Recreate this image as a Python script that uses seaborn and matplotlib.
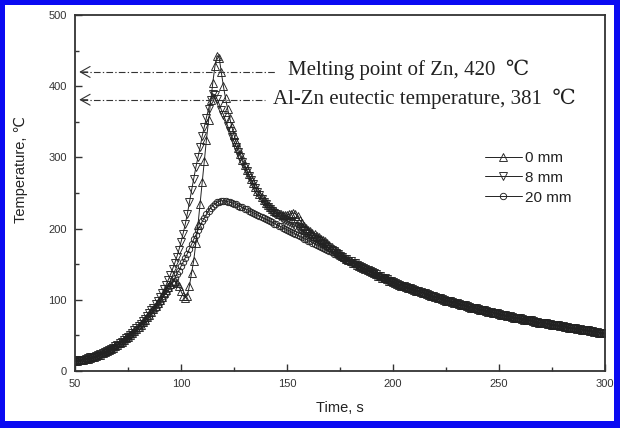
import matplotlib
matplotlib.use("Agg")
import matplotlib.pyplot as plt
import seaborn as sns
from matplotlib.patches import Rectangle

# ---------------- data (1 s sampling) ----------------
time_s = list(range(50, 301))

# t = 50 ... 199 s
head_0mm = [
    14, 14, 15, 15, 16, 17, 17, 18, 19, 20,
    21, 22, 23, 25, 26, 28, 29, 31, 33, 35,
    37, 39, 41, 43, 46, 48, 51, 53, 56, 59,
    62, 65, 69, 72, 76, 79, 83, 87, 91, 95,
    100, 104, 109, 114, 118, 122, 125, 126, 124, 119,
    112, 106, 103, 106, 120, 138, 155, 180, 205, 235,
    265, 295, 325, 352, 380, 405, 428, 443, 440, 420,
    400, 383, 368, 355, 343, 332, 322, 313, 305, 297,
    290, 283, 276, 270, 264, 258, 253, 248, 244, 240,
    236, 233, 230, 227, 225, 223, 221, 220, 219, 219,
    219, 220, 221, 222, 221, 217, 212, 208, 204, 201,
    198, 196, 194, 192, 190, 188, 186, 184, 182, 180,
    177, 174, 172, 169, 167, 165, 162, 160, 158, 156,
    154, 152, 151, 149, 148, 146, 145, 143, 142, 140,
    139, 137, 136, 134, 133, 131, 130, 129, 127, 126,
]

head_8mm = [
    14, 15, 15, 16, 16, 17, 18, 19, 19, 20,
    21, 22, 24, 25, 26, 28, 29, 31, 33, 35,
    37, 39, 41, 43, 46, 48, 51, 54, 57, 60,
    63, 66, 70, 73, 77, 81, 85, 89, 94, 99,
    104, 109, 115, 121, 128, 135, 143, 151, 160, 170,
    181, 193, 206, 221, 237, 254, 270, 286, 300, 314,
    330, 343, 356, 368, 380, 389, 388, 382, 375, 367,
    360, 352, 344, 337, 329, 322, 315, 308, 301, 294,
    287, 281, 274, 268, 262, 257, 252, 247, 242, 238,
    234, 231, 228, 225, 222, 220, 218, 216, 214, 212,
    211, 209, 208, 206, 204, 202, 200, 198, 196, 194,
    192, 190, 188, 186, 184, 182, 180, 178, 176, 174,
    172, 170, 168, 166, 164, 162, 160, 158, 157, 155,
    154, 152, 151, 149, 148, 146, 145, 143, 142, 140,
    139, 137, 136, 134, 133, 131, 130, 129, 127, 126,
]

head_20mm = [
    14, 14, 15, 15, 16, 17, 17, 18, 19, 20,
    21, 22, 23, 24, 26, 27, 29, 30, 32, 34,
    36, 38, 40, 42, 45, 47, 50, 52, 55, 58,
    61, 64, 67, 70, 74, 77, 81, 85, 89, 93,
    97, 101, 106, 110, 115, 120, 125, 130, 136, 141,
    147, 153, 159, 165, 172, 178, 185, 191, 198, 204,
    210, 215, 220, 225, 229, 232, 235, 237, 238, 239,
    239, 239, 238, 237, 236, 235, 234, 232, 231, 230,
    228, 227, 225, 224, 222, 221, 219, 218, 216, 215,
    213, 212, 210, 209, 207, 206, 204, 203, 201, 200,
    198, 197, 195, 194, 192, 191, 189, 188, 186, 185,
    183, 182, 180, 179, 177, 176, 174, 173, 171, 170,
    168, 167, 165, 164, 162, 161, 159, 158, 156, 155,
    153, 152, 150, 149, 147, 146, 144, 143, 141, 140,
    138, 137, 135, 134, 133, 131, 130, 129, 127, 126,
]

# t = 200 ... 300 s, where the three curves coincide
common_tail = [
    125, 124, 122, 121, 120, 119, 118, 117, 116, 115,
    114, 113, 112, 111, 110, 109, 108, 107, 106, 105,
    104, 103, 102, 101, 100, 99, 98, 98, 97, 96,
    95, 94, 93, 93, 92, 91, 90, 89, 89, 88,
    87, 86, 86, 85, 84, 83, 83, 82, 81, 81,
    80, 79, 79, 78, 77, 77, 76, 75, 75, 74,
    74, 73, 72, 72, 71, 71, 70, 69, 69, 68,
    68, 67, 67, 66, 66, 65, 65, 64, 64, 63,
    63, 62, 62, 61, 61, 60, 60, 59, 59, 58,
    58, 57, 57, 56, 56, 55, 55, 54, 54, 53,
    53,
]

temp_0mm = head_0mm + common_tail
temp_8mm = head_8mm + common_tail
temp_20mm = head_20mm + common_tail

series_labels = ["0 mm", "8 mm", "20 mm"]
series_markers = ["^", "v", "o"]
x_ticks = [50, 100, 150, 200, 250, 300]
y_ticks = [0, 100, 200, 300, 400, 500]
melting_temp = 420
eutectic_temp = 381
melting_text = "Melting point of Zn, 420  \u2103"
eutectic_text = "Al-Zn eutectic temperature, 381  \u2103"
x_label = "Time, s"
y_label = "Temperature, \u2103"

# ---------------- style ----------------
sns.set_theme(style="white")
plt.rcParams["font.family"] = ["Liberation Sans", "DejaVu Sans"]

W, H = 620, 428
fig = plt.figure(figsize=(W / 100, H / 100), dpi=100)
fig.patch.set_facecolor("white")
ax = fig.add_axes([75 / W, 57 / H, 530 / W, 356 / H])

ink = "#222222"
series = [temp_0mm, temp_8mm, temp_20mm]
ms = [6.0, 6.0, 4.6]
for vals, lab, mk, m in zip(series, series_labels, series_markers, ms):
    sns.lineplot(x=time_s, y=vals, ax=ax, label=lab, color=ink,
                 lw=0.7, marker=mk, markersize=m, markerfacecolor="none",
                 markeredgecolor=ink, markeredgewidth=0.65, sort=False)

ax.set_xlim(50, 300)
ax.set_ylim(0, 500)
ax.set_xticks(x_ticks)
ax.set_yticks(y_ticks)
ax.set_xticks([75, 125, 175, 225, 275], minor=True)
ax.set_yticks([50, 150, 250, 350, 450], minor=True)
ax.tick_params(axis="both", which="both", direction="in", bottom=True, left=True,
               top=False, right=False, colors="#333333", labelsize=8)
ax.tick_params(which="major", length=5, width=1)
ax.tick_params(which="minor", length=3, width=1)
ax.tick_params(axis="x", pad=6)
ax.tick_params(axis="y", pad=6)
for sp in ax.spines.values():
    sp.set_color("#333333")
    sp.set_linewidth(1.3)

ax.set_xlabel(x_label, fontsize=10.5, color=ink)
ax.set_ylabel(y_label, fontsize=10.5, color=ink)
ax.xaxis.set_label_coords(0.5, -0.084)
ax.yaxis.set_label_coords(-0.089, 0.565)

# reference lines with open arrow heads
dash = (0, (6, 2, 1.2, 2))
ax.plot([52.6, 145], [melting_temp, melting_temp], color="#333333", lw=0.8, linestyle=dash)
ax.plot([52.6, 139.5], [eutectic_temp, eutectic_temp], color="#333333", lw=0.8, linestyle=dash)
for yv in (melting_temp, eutectic_temp):
    ax.annotate("", xy=(52.0, yv), xytext=(56.0, yv),
                arrowprops=dict(arrowstyle="->,head_length=0.5,head_width=0.28",
                                lw=0.8, color="#333333", mutation_scale=14,
                                shrinkA=0, shrinkB=0))

serif = ["Liberation Serif", "DejaVu Serif", "DejaVu Sans"]
ax.text(150.3, 423, melting_text, family=serif, fontsize=15, va="center", ha="left",
        color=ink)
ax.text(143.2, 382, eutectic_text, family=serif, fontsize=15, va="center", ha="left",
        color=ink)

leg = ax.legend(loc="upper left", bbox_to_anchor=(485 / W, (H - 151) / H),
                bbox_transform=fig.transFigure, frameon=False, fontsize=11,
                handlelength=2.4, handletextpad=0.25, labelspacing=0.38,
                borderpad=0, borderaxespad=0)
for t in leg.get_texts():
    t.set_color(ink)

# blue frame around the figure
blue = "#0a0af2"
for (x0, y0, w, h) in [(0, 0, 5, H), (W - 6, 0, 6, H), (0, H - 5, W, 5), (0, 0, W, 7)]:
    fig.patches.append(Rectangle((x0 / W, y0 / H), w / W, h / H, transform=fig.transFigure,
                                 facecolor=blue, edgecolor="none", zorder=10))

fig.savefig("out.png", dpi=100)
